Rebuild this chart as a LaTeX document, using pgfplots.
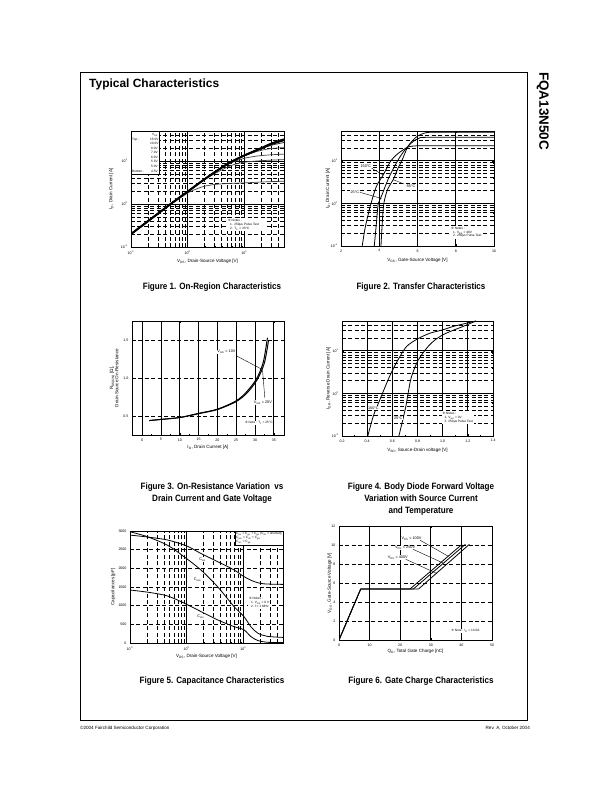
\documentclass[border=0pt]{standalone}
\usepackage{fontspec}
\setmainfont{Liberation Sans}
\newfontfamily\djv{DejaVu Sans}
\usepackage{pgfplots}
\pgfplotsset{compat=1.18}

\newcommand\tk{\fontsize{3.6}{4.2}\selectfont}
\newcommand\lb{\fontsize{4.6}{5.4}\selectfont}
\newcommand\nt{\fontsize{3.2}{3.9}\selectfont}
\newcommand\an{\fontsize{3.8}{4.5}\selectfont}
\newcommand\capf{\bfseries\fontsize{9.2}{10}\selectfont}
\newcommand\ten[1]{10\textsuperscript{#1}}
\newcommand\nb{{\djv ※}}
\newcommand\cp[1]{\scalebox{0.88}[1]{#1}}

\pgfplotsset{
  myds/.style={
    scale only axis, anchor=south west,
    axis line style={line width=0.7pt},
    every axis plot/.append style={line width=0.8pt, black, mark=none},
    grid style={black, line width=0.75pt},
    minor grid style={dash pattern=on 4pt off 2.5pt},
    tick style={black, line width=0.4pt},
    major tick length=2pt, minor tick length=1.2pt,
    tick label style={font=\tk},
    /pgf/number format/assume math mode=true,
    /pgf/number format/set thousands separator={},
    label style={font=\lb},
    xmajorgrids, ymajorgrids,
  },
  mylingrid/.style={y grid style={dash pattern=on 4pt off 2.5pt}},
  mylogx/.style={xtick={0.1,1,10}, xticklabels={\ten{-1},\ten{0},\ten{1}},
    minor xtick={0.2,0.3,0.4,0.5,0.6,0.7,0.8,0.9,2,3,4,5,6,7,8,9,20,30,40}, xminorgrids},
  mylogy/.style={ytick={0.1,1,10}, yticklabels={\ten{-1},\ten{0},\ten{1}},
    minor ytick={0.2,0.3,0.4,0.5,0.6,0.7,0.8,0.9,2,3,4,5,6,7,8,9,20,30,40}, yminorgrids},
}

\begin{document}
\begin{tikzpicture}
\path[use as bounding box, fill=white] (0,0) rectangle (612bp,792bp);
\draw[line width=0.8pt] (80bp,72bp) rectangle (527bp,720bp);
\node[anchor=base west, inner sep=0, font=\bfseries\fontsize{12}{14}\selectfont] at (89bp,704bp) {Typical Characteristics};
\node[rotate=-90, anchor=north west, inner sep=0, font=\bfseries\fontsize{13.5}{15}\selectfont] at (549bp,720bp) {FQA13N50C};

% captions
\node[anchor=base, inner sep=0, font=\capf] at (212bp,502bp) {\cp{Figure 1. On-Region Characteristics}};
\node[anchor=base, inner sep=0, font=\capf] at (421bp,502bp) {\cp{Figure 2. Transfer Characteristics}};
\node[anchor=base, inner sep=0, font=\capf] at (212bp,302bp) {\cp{Figure 3. On-Resistance Variation\ \ vs}};
\node[anchor=base, inner sep=0, font=\capf] at (212bp,290bp) {\cp{Drain Current and Gate Voltage}};
\node[anchor=base, inner sep=0, font=\capf] at (421bp,302bp) {\cp{Figure 4. Body Diode Forward Voltage}};
\node[anchor=base, inner sep=0, font=\capf] at (421bp,290bp) {\cp{Variation with Source Current}};
\node[anchor=base, inner sep=0, font=\capf] at (421bp,278bp) {\cp{and Temperature}};
\node[anchor=base, inner sep=0, font=\capf] at (212bp,108bp) {\cp{Figure 5. Capacitance Characteristics}};
\node[anchor=base, inner sep=0, font=\capf] at (421bp,108bp) {\cp{Figure 6. Gate Charge Characteristics}};

% footer
\node[anchor=base west, inner sep=0, font=\fontsize{4.6}{5}\selectfont] at (80bp,62bp) {©2004 Fairchild Semiconductor Corporation};
\node[anchor=base east, inner sep=0, font=\fontsize{4.6}{5}\selectfont] at (530bp,62bp) {Rev. A, October 2004};

% ---------- Figure 1 ----------
\begin{axis}[myds, xmode=log, ymode=log, mylogx, mylogy, at={(131bp,545bp)}, width=153bp, height=116bp,
  xmin=0.1, xmax=50, ymin=0.1, ymax=50,
  xlabel={V\textsubscript{DS}, Drain-Source Voltage [V]},
  ylabel={I\textsubscript{D}, Drain Current [A]},
  x label style={at={(axis description cs:0.5,-0.127)}, anchor=center},
  y label style={at={(axis description cs:-0.13,0.5)}, anchor=center}]
\addplot[smooth, black!75, line width=0.7pt] coordinates {(0.1,0.2)(0.5,0.97)(1,1.8)(1.5,2.3)(2,2.6)(3,2.85)(5,3.0)(10,3.1)(20,3.25)(50,3.4)};
\addplot[smooth, black!75, line width=0.7pt] coordinates {(0.1,0.2)(0.5,1.0)(1,1.95)(2,3.7)(3,5.1)(5,7.2)(7,8.5)(10,9.4)(20,10.2)(50,10.8)};
\addplot[smooth, black!75, line width=0.7pt] coordinates {(0.1,0.2)(0.5,1.0)(1,1.95)(2,3.8)(3,5.5)(5,8.2)(7,10)(10,11.6)(15,12.8)(20,13.4)(30,14)(50,14.5)};
\addplot[smooth, black!75, line width=0.7pt] coordinates {(0.1,0.2)(0.5,1.0)(1,1.95)(2,3.8)(3,5.5)(5,8.5)(7,10.8)(10,13.2)(15,16)(20,17.8)(30,19.6)(50,20.5)};
\addplot[smooth, black!80, line width=0.8pt] coordinates {(0.1,0.2)(0.5,1.0)(1,1.95)(2,3.8)(3,5.5)(5,8.5)(7,10.8)(10,13.5)(15,16.7)(20,19.3)(30,23.3)(50,27)};
\addplot[smooth, line width=1.2pt] coordinates {(0.1,0.2)(0.5,1.0)(1,1.95)(2,3.8)(3,5.5)(5,8.5)(7,10.8)(10,13.5)(15,17)(20,19.8)(30,24.5)(50,30)};
\addplot[smooth, line width=1.5pt] coordinates {(0.1,0.2)(0.5,1.0)(1,1.95)(2,3.8)(3,5.5)(5,8.5)(7,10.8)(10,13.5)(15,17)(20,20)(30,25)(50,31)};
\addplot[smooth, line width=2pt] coordinates {(0.1,0.2)(0.2,0.4)(0.5,1.0)(1,1.95)(2,3.8)(3,5.5)(5,8.5)(7,10.8)(10,13.5)(15,17)(20,20)(30,25.5)(50,32)};
\node[draw, line width=0.5pt, fill=white, anchor=north west, inner sep=1pt, font=\fontsize{3.2}{4.6}\selectfont] at (rel axis cs:0,1)
 {\begin{tabular}{@{}l@{\hspace{6bp}}l@{}}
  & \hspace{2bp}V\textsubscript{GS}\\
  Top : & 15.0V\\
  & 10.0V\\
  & \hspace{1bp}8.0V\\
  & \hspace{1bp}7.0V\\
  & \hspace{1bp}6.0V\\
  & \hspace{1bp}5.5V\\
  & \hspace{1bp}5.0V\\
  Bottom : & \hspace{1bp}4.5V
 \end{tabular}};
\node[fill=white, anchor=north west, inner sep=1pt, font=\nt, align=left, text width=38bp] at (axis cs:4.9,0.47)
 {\nb\ Notes :\\ \hspace{2bp}1. 250μs Pulse Test\\ \hspace{2bp}2. T\textsubscript{C} = 25°C};
\end{axis}

% ---------- Figure 2 ----------
\begin{axis}[myds, ymode=log, mylogy, at={(341bp,546bp)}, width=153bp, height=115bp,
  xmin=2, xmax=10, ymin=0.1, ymax=50, xtick={2,4,6,8,10},
  xlabel={V\textsubscript{GS}, Gate-Source Voltage [V]},
  ylabel={I\textsubscript{D}, Drain Current [A]},
  x label style={at={(axis description cs:0.5,-0.122)}, anchor=center},
  y label style={at={(axis description cs:-0.085,0.5)}, anchor=center}]
\addplot[smooth] coordinates {(3.11,0.1)(3.25,0.25)(3.4,0.5)(3.57,1)(3.85,2.5)(4.2,4.6)(4.61,10)(5.0,15)(5.5,21)(5.9,22.3)(6.3,22.5)(10,22.5)};
\addplot[smooth] coordinates {(3.74,0.1)(3.84,0.3)(3.95,1)(4.12,1.5)(4.5,4)(4.96,10)(5.3,17)(5.51,22)(5.8,29)(6.1,34)(6.5,35.5)(10,35.5)};
\addplot[smooth] coordinates {(4.09,0.1)(4.15,0.3)(4.24,1)(4.45,2.2)(4.73,3.6)(5.0,7)(5.2,10.5)(5.51,22)(5.9,35)(6.2,42)(6.5,46)(7,46.5)(10,46.5)};
\node[font=\an, fill=white, inner sep=0.5pt] at (axis cs:3.30,7.5) {150°C};
\draw[line width=0.4pt] (axis cs:3.6,6.7) -- (axis cs:4.21,4.6);
\node[font=\an, fill=white, inner sep=0.5pt] at (axis cs:2.72,1.82) {25°C};
\draw[line width=0.4pt] (axis cs:2.99,1.82) -- (axis cs:4.12,1.3);
\node[font=\an, fill=white, inner sep=0.5pt] at (axis cs:5.63,2.56) {-55°C};
\draw[line width=0.4pt] (axis cs:5.3,2.85) -- (axis cs:4.73,3.6);
\node[fill=white, anchor=north west, inner sep=1pt, font=\nt, align=left] at (axis cs:7.7,0.3)
 {\nb\ Notes :\\ \hspace{2bp}1. V\textsubscript{DS} = 40V\\ \hspace{2bp}2. 250μs Pulse Test};
\end{axis}

% ---------- Figure 3 ----------
\begin{axis}[myds, mylingrid, at={(132bp,357bp)}, width=152bp, height=114bp,
  xmin=-2.7, xmax=37.7, ymin=0.25, ymax=1.75,
  xtick={0,5,10,15,20,25,30,35}, ytick={0.5,1.0,1.5}, minor x tick num=1,
  yticklabel style={/pgf/number format/.cd, fixed, fixed zerofill, precision=1},
  xlabel={I\textsubscript{D}, Drain Current [A]},
  ylabel={R\textsubscript{DS(ON)} [Ω],\\Drain-Source On-Resistance},
  x label style={at={(axis description cs:0.5,-0.112)}, anchor=center},
  y label style={at={(axis description cs:-0.118,0.5)}, anchor=center, align=center}]
\addplot[smooth, line width=1pt] coordinates {(1.9,0.44)(5,0.455)(10,0.48)(15,0.535)(20,0.59)(25,0.70)(27.8,0.82)(30.4,0.99)(32.2,1.21)(33.3,1.53)};
\addplot[smooth, line width=1pt] coordinates {(1.9,0.44)(5,0.455)(10,0.48)(15,0.53)(20,0.585)(25,0.69)(28,0.81)(30.6,0.98)(32.5,1.2)(33.6,1.5)};
\node[font=\an, fill=white, inner sep=0.5pt] at (axis cs:22.4,1.34) {V\textsubscript{GS} = 10V};
\draw[line width=0.4pt] (axis cs:25.1,1.29) -- (axis cs:32.0,1.11);
\node[font=\an, fill=white, inner sep=0.5pt] at (axis cs:32.1,0.68) {V\textsubscript{GS} = 20V};
\draw[line width=0.4pt] (axis cs:32.6,0.74) -- (axis cs:32.0,1.1);
\node[font=\nt, fill=white, inner sep=0.5pt] at (axis cs:31,0.41) {\nb\ Note : T\textsubscript{J} = 25°C};
\end{axis}

% ---------- Figure 4 ----------
\begin{axis}[myds, ymode=log, mylogy, at={(342bp,356bp)}, width=151bp, height=115bp,
  xmin=0.2, xmax=1.4, ymin=0.1, ymax=50,
  xtick={0.2,0.4,0.6,0.8,1.0,1.2,1.4}, minor x tick num=1,
  xticklabel style={/pgf/number format/.cd, fixed, fixed zerofill, precision=1},
  xlabel={V\textsubscript{SD}, Source-Drain voltage [V]},
  ylabel={I\textsubscript{DR}, Reverse Drain Current [A]},
  x label style={at={(axis description cs:0.5,-0.122)}, anchor=center},
  y label style={at={(axis description cs:-0.09,0.5)}, anchor=center}]
\addplot[smooth] coordinates {(0.405,0.1)(0.45,0.3)(0.50,0.70)(0.55,1.6)(0.595,3.2)(0.65,6.5)(0.713,12.6)(0.80,19)(0.897,25.7)(1.0,31)(1.08,37)(1.17,43)(1.265,50)};
\addplot[smooth] coordinates {(0.652,0.1)(0.68,0.22)(0.707,0.49)(0.73,1.2)(0.752,2.45)(0.805,6)(0.884,12.6)(0.94,18)(1.0,23.6)(1.08,30)(1.16,37)(1.265,50)};
\node[font=\an, fill=white, inner sep=0.5pt] at (axis cs:0.449,0.46) {150°C};
\node[font=\an, fill=white, inner sep=0.5pt] at (axis cs:0.647,0.26) {25°C};
\node[fill=white, anchor=north west, inner sep=1pt, font=\nt, align=left] at (axis cs:0.99,0.38)
 {\nb\ Notes :\\ \hspace{2bp}1. V\textsubscript{GS} = 0V\\ \hspace{2bp}2. 250μs Pulse Test};
\end{axis}

% ---------- Figure 5 ----------
\begin{axis}[myds, mylingrid, xmode=log, mylogx, at={(130bp,149bp)}, width=153bp, height=112bp,
  xmin=0.1, xmax=50, ymin=0, ymax=3000, ytick={0,500,1000,1500,2000,2500,3000},
  xlabel={V\textsubscript{DS}, Drain-Source Voltage [V]},
  ylabel={Capacitances [pF]},
  x label style={at={(axis description cs:0.5,-0.12)}, anchor=center},
  y label style={at={(axis description cs:-0.11,0.5)}, anchor=center}]
\addplot[smooth] coordinates {(0.1,2890)(0.2,2840)(0.457,2760)(1,2600)(1.77,2400)(3.5,2180)(6.8,1960)(10.2,1780)(15.5,1645)(23,1585)(50,1570)};
\addplot[smooth] coordinates {(0.1,2980)(0.2,2850)(0.457,2620)(0.9,2310)(1.77,1960)(3.5,1510)(6.8,980)(10.2,710)(13.5,440)(17.7,270)(26,180)(50,150)};
\addplot[smooth] coordinates {(0.1,1420)(0.23,1350)(0.457,1260)(0.9,1070)(1.77,845)(3.5,620)(6.8,440)(10.2,355)(13.5,175)(17.7,70)(26,20)(50,10)};
\node[font=\an, fill=white, inner sep=0.5pt] at (axis cs:1.9,2230) {C\textsubscript{iss}};
\node[font=\an, fill=white, inner sep=0.5pt] at (axis cs:1.55,1690) {C\textsubscript{oss}};
\node[font=\an, fill=white, inner sep=0.5pt] at (axis cs:1.77,712) {C\textsubscript{rss}};
\node[draw, line width=0.5pt, fill=white, anchor=north east, inner sep=1pt, font=\nt, align=left] at (rel axis cs:1,1)
 {C\textsubscript{iss} = C\textsubscript{gs} + C\textsubscript{gd} (C\textsubscript{ds} = shorted)\\ C\textsubscript{oss} = C\textsubscript{ds} + C\textsubscript{gd}\\ C\textsubscript{rss} = C\textsubscript{gd}};
\node[fill=white, anchor=north west, inner sep=1pt, font=\nt, align=left] at (axis cs:12,1250)
 {\nb\ Notes :\\ \hspace{2bp}1. V\textsubscript{GS} = 0 V\\ \hspace{2bp}2. f = 1 MHz};
\end{axis}

% ---------- Figure 6 ----------
\begin{axis}[myds, mylingrid, at={(339bp,152bp)}, width=153bp, height=114bp,
  xmin=0, xmax=50, ymin=0, ymax=12, xtick={0,10,20,30,40,50}, ytick={0,2,4,6,8,10,12},
  xlabel={Q\textsubscript{G}, Total Gate Charge [nC]},
  ylabel={V\textsubscript{GS}, Gate-Source Voltage [V]},
  x label style={at={(axis description cs:0.5,-0.103)}, anchor=center},
  y label style={at={(axis description cs:-0.06,0.5)}, anchor=center}]
\addplot[black, mark=none, line width=0.8pt] coordinates {(0,0)(7.1,5.37)(23.2,5.37)(40.2,10.07)};
\addplot[black, mark=none, line width=0.8pt] coordinates {(0,0)(7.1,5.37)(24.3,5.37)(41.3,10.07)};
\addplot[black, mark=none, line width=0.8pt] coordinates {(0,0)(7.1,5.37)(26.0,5.37)(42.6,10.07)};
\node[font=\an, fill=white, inner sep=0.5pt] at (axis cs:23.7,10.7) {V\textsubscript{DS} = 100V};
\draw[line width=0.4pt] (axis cs:26.5,10.5) -- (axis cs:35.8,8.8);
\node[font=\an, fill=white, inner sep=0.5pt] at (axis cs:21.6,9.7) {V\textsubscript{DS} = 250V};
\draw[line width=0.4pt] (axis cs:24.2,9.55) -- (axis cs:34.2,8.07);
\node[font=\an, fill=white, inner sep=0.5pt] at (axis cs:19.2,8.66) {V\textsubscript{DS} = 400V};
\draw[line width=0.4pt] (axis cs:21.8,8.5) -- (axis cs:32.0,7.0);
\node[font=\nt, fill=white, inner sep=0.5pt] at (axis cs:41.3,0.98) {\nb\ Note : I\textsubscript{D} = 13.0A};
\end{axis}
\end{tikzpicture}
\end{document}
